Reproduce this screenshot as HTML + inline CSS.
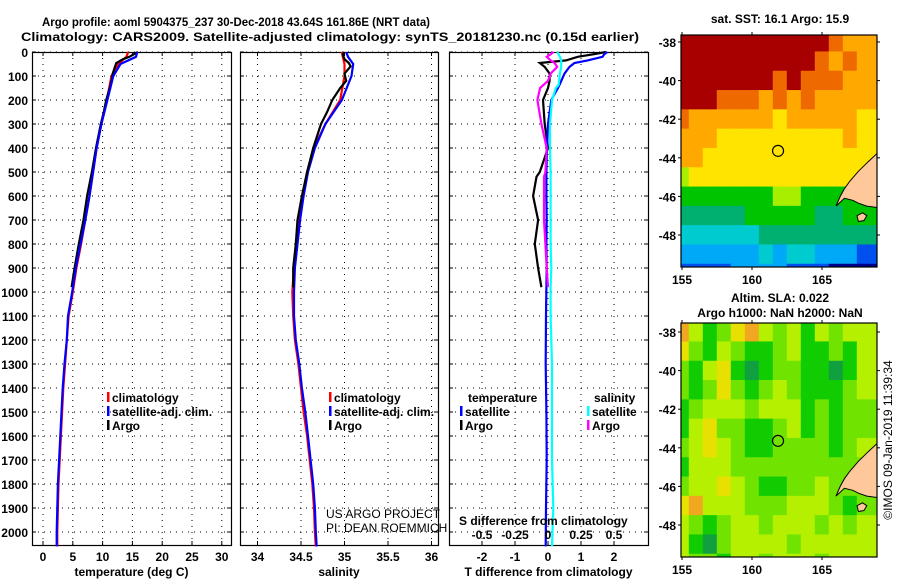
<!DOCTYPE html>
<html><head><meta charset="utf-8"><style>
body{margin:0;background:#fff;width:900px;height:580px;overflow:hidden}
svg text{font-family:"Liberation Sans",sans-serif;font-weight:bold;font-size:12px;fill:#000}
svg text.thin{font-weight:normal}
</style></head><body>
<svg id="fig" width="900" height="580" viewBox="0 0 900 580" xmlns="http://www.w3.org/2000/svg">
<text x="236" y="26" text-anchor="middle" font-size="14" textLength="388" lengthAdjust="spacingAndGlyphs">Argo profile: aoml 5904375_237 30-Dec-2018 43.64S 161.86E (NRT data)</text>
<text x="330" y="41" text-anchor="middle" font-size="14" textLength="618" lengthAdjust="spacingAndGlyphs">Climatology: CARS2009. Satellite-adjusted climatology: synTS_20181230.nc (0.15d earlier)</text>
</svg>
<script>
// ---------- data ----------
const depthTicks=[0,100,200,300,400,500,600,700,800,900,1000,1100,1200,1300,1400,1500,1600,1700,1800,1900,2000];
const tempTicks=[0,5,10,15,20,25,30];
const salTicks=[34,34.5,35,35.5,36];
const tdiffTicks=[-2,-1,0,1,2];
const sdiffTicks=[-0.5,-0.25,0,0.25,0.5];
const sdiffTickLabels=["-0.5","-0.25","0","0.25","0.5"];

const climDepth=[0,20,50,100,200,300,400,500,600,700,800,900,1000,1100,1200,1300,1400,1500,1600,1700,1800,1900,2000,2060];
const tempClim=[14.3,14.0,12.6,11.5,10.7,9.8,9.0,8.4,7.8,7.1,6.4,5.6,5.0,4.3,4.0,3.7,3.4,3.2,3.0,2.8,2.6,2.5,2.4,2.4];
const tempSat =[15.8,15.6,13.0,11.8,10.8,9.8,9.0,8.4,7.8,7.1,6.3,5.5,4.9,4.2,4.0,3.6,3.3,3.1,2.9,2.7,2.5,2.4,2.3,2.3];
const salClim=[34.97,34.98,35.0,35.0,34.95,34.78,34.65,34.57,34.52,34.48,34.45,34.42,34.40,34.41,34.43,34.47,34.50,34.53,34.57,34.60,34.63,34.65,34.66,34.67];
const salSat =[35.02,35.04,35.10,35.08,34.97,34.78,34.66,34.58,34.53,34.49,34.46,34.43,34.42,34.42,34.44,34.48,34.51,34.55,34.58,34.61,34.64,34.66,34.67,34.68];

const argoDepth=[0,10,20,30,46,60,90,120,150,200,250,300,400,500,600,700,800,900,980];
const tempArgo=[15.9,15.2,14.5,13.4,12.3,12.1,11.7,11.5,11.2,10.6,10.2,9.7,8.9,8.2,7.4,6.8,6.0,5.3,4.8];
const salArgo=[35.0,34.98,34.99,35.0,35.05,35.07,35.0,35.02,34.95,34.86,34.80,34.73,34.64,34.57,34.51,34.46,34.44,34.41,34.41];

const diffDepth=[0,10,20,35,46,62,90,137,150,200,300,400,500,600,700,800,900,980,1100,1300,1500,1700,1900,2060];
const tDiffSat=[1.8,1.7,1.65,1.2,0.8,0.65,0.5,0.35,0.3,0.1,0.0,-0.03,-0.05,-0.05,-0.04,-0.05,-0.04,-0.05,-0.06,-0.07,-0.05,-0.04,-0.06,-0.07];
const sDiffSat=[0.07,0.08,0.09,0.1,0.1,0.1,0.09,0.08,0.06,0.03,0.015,0.015,0.02,0.02,0.02,0.02,0.025,0.02,0.02,0.03,0.03,0.03,0.04,0.03];
const argoDiffDepth=[0,10,20,35,46,62,90,120,150,200,300,400,500,520,600,700,800,900,980];
const tDiffArgo=[1.75,1.35,0.9,0.55,-0.25,-0.1,0.05,0.05,0.0,-0.15,-0.1,0.0,-0.25,-0.35,-0.45,-0.3,-0.4,-0.3,-0.2];
const sDiffArgo=[0.04,0.02,-0.01,0.02,0.05,0.07,0.02,0.0,-0.06,-0.08,-0.05,-0.01,-0.02,-0.03,-0.03,-0.03,-0.02,-0.01,0.0];

// SST colour index grid (rows: lat -38..-50 step 1, cols: lon 155..168 step 1)
const sstColors=["#00008c","#0050f0","#00a8f8","#00ccd0","#00b070","#00c400","#a8ee00","#ffe400","#ffa800","#ee6a00","#a80000"];
const sstGrid=[
[10,10,10,10,10,10,10,10,10,10,10,9,8,8],
[10,10,10,10,10,10,10,10,10,10,9,8,9,8],
[10,10,10,10,10,10,10,9,10,9,9,9,8,8],
[10,10,10,9,9,9,8,9,8,9,8,8,8,8],
[9,8,8,8,8,8,8,7,8,8,8,8,8,7],
[8,8,8,7,7,7,7,7,7,7,7,7,8,7],
[8,8,7,7,7,7,7,7,7,7,7,7,7,7],
[6,7,7,7,7,7,7,7,7,7,7,7,7,7],
[5,5,5,5,5,5,5,6,6,5,5,5,5,5],
[4,4,4,4,4,5,5,5,5,5,4,4,5,5],
[3,3,3,3,3,3,4,4,4,4,4,4,4,4],
[2,2,2,2,2,2,3,2,3,3,2,2,2,1],
[1,1,1,1,2,2,2,2,1,1,1,0,0,0]];
const slaColors=["#10a040","#10cc00","#70e400","#b4f000","#e8e000","#f0a820"];
const slaGrid=[
[5,3,1,2,4,5,3,2,3,1,3,2,3,3],
[4,2,1,3,2,1,1,2,3,1,1,2,1,3],
[2,1,3,4,1,0,1,2,2,1,1,0,1,3],
[2,1,2,4,2,1,2,3,2,1,1,1,2,3],
[1,2,3,3,3,2,3,3,3,1,2,1,2,2],
[1,3,4,2,2,1,1,2,3,1,2,1,2,2],
[2,3,4,3,2,1,1,2,2,2,2,1,2,3],
[1,3,3,3,2,2,2,2,2,2,2,2,2,2],
[2,3,3,4,3,2,1,1,2,2,3,2,2,2],
[4,5,3,3,3,2,2,2,3,3,3,2,1,2],
[3,2,1,2,3,3,2,3,3,3,2,3,2,3],
[3,1,0,2,3,3,3,3,2,3,3,3,3,3],
[3,2,2,1,3,3,2,3,3,3,2,3,3,3]];
const mapLonTicks=[155,160,165];
const mapLatTicks=[-38,-40,-42,-44,-46,-48];
const landLon=[169.2,168.9,168.3,167.6,167.0,166.6,166.3,166.0,166.6,167.2,167.6,168.2,169.2];
const landLat=[-43.7,-43.8,-44.2,-44.7,-45.2,-45.6,-46.0,-46.5,-46.1,-46.2,-46.35,-46.5,-46.6];
const islandLon=[167.5,167.9,168.2,168.0,167.6];
const islandLat=[-47.0,-46.85,-47.0,-47.25,-47.3];
const argoLon=161.86, argoLat=-43.64;

// ---------- drawing ----------
const NS="http://www.w3.org/2000/svg";
const svg=document.getElementById('fig');
function el(tag,attrs,parent){const e=document.createElementNS(NS,tag);for(const k in attrs)e.setAttribute(k,attrs[k]);(parent||svg).appendChild(e);return e;}
function txt(x,y,s,anchor,parent,size,thin){const t=el('text',{x:x,y:y,'text-anchor':anchor||'start'},parent);if(size)t.setAttribute('font-size',size);if(thin)t.setAttribute('class','thin');t.textContent=s;return t;}

const Y0=52, PYB=545;
const yD=d=>Y0+d*0.24;
const panels=[
 {name:'temperature-panel',x0:32,x1:231,xs:v=>43+v*5.96,ticks:tempTicks,lab:tempTicks.map(String),title:'temperature (deg C)'},
 {name:'salinity-panel',x0:240,x1:438,xs:v=>257.5+(v-34)*87,ticks:salTicks,lab:salTicks.map(String),title:'salinity'},
 {name:'difference-panel',x0:449,x1:648,xs:v=>548+v*33,ticks:tdiffTicks,lab:tdiffTicks.map(String),title:'T difference from climatology'}];
panels.forEach((p,i)=>{
  const g=el('g',{});  
  p.ticks.forEach(t=>{const x=p.xs(t);el('line',{x1:x,x2:x,y1:Y0,y2:PYB,stroke:'#000','stroke-width':1,'stroke-dasharray':'1,5'},g);
    el('line',{x1:x,x2:x,y1:Y0,y2:Y0+4,stroke:'#000'},g);el('line',{x1:x,x2:x,y1:PYB,y2:PYB-4,stroke:'#000'},g);});
  depthTicks.forEach(d=>{const y=yD(d);el('line',{x1:p.x0,x2:p.x1,y1:y,y2:y,stroke:'#000','stroke-width':1,'stroke-dasharray':'1,5'},g);
    el('line',{x1:p.x0,x2:p.x0+4,y1:y,y2:y,stroke:'#000'},g);el('line',{x1:p.x1,x2:p.x1-4,y1:y,y2:y,stroke:'#000'},g);});
  el('rect',{x:p.x0+0.5,y:Y0+0.5,width:p.x1-p.x0,height:PYB-Y0,fill:'none',stroke:'#000','stroke-width':1.2},g);
  p.ticks.forEach((t,k)=>{const l=txt(p.xs(t),561,p.lab[k],'middle',g,13);});
  const xt=txt((p.x0+p.x1)/2,576,p.title,'middle',g,13);
  p.g=g;
});
depthTicks.forEach(d=>{const l=txt(28,yD(d)+5,String(d),'end',null,13);});

function series(panel,xs,ys,color,name){
  const p=panels[panel];
  const pts=xs.map((v,k)=>p.xs(v).toFixed(1)+','+yD(ys[k]).toFixed(1)).join(' ');
  const l=el('polyline',{points:pts,fill:'none',stroke:color,'stroke-width':2.2,'stroke-linejoin':'miter'},p.g);
  
  
}
series(0,tempClim,climDepth,'#ff0000','temp-climatology-line');
series(0,tempArgo,argoDepth,'#000000','temp-argo-line');
series(0,tempSat,climDepth,'#0000ff','temp-satellite-line');
series(1,salClim,climDepth,'#ff0000','sal-climatology-line');
series(1,salSat,climDepth,'#0000ff','sal-satellite-line');
series(1,salArgo,argoDepth,'#000000','sal-argo-line');
series(2,tDiffArgo,argoDiffDepth,'#000000','tdiff-argo-line');
series(2,tDiffSat,diffDepth,'#0000ff','tdiff-satellite-line');
const sScale=v=>v*4;
series(2,sDiffSat.map(sScale),diffDepth,'#00ffff','sdiff-satellite-line');
series(2,sDiffArgo.map(sScale),argoDiffDepth,'#ff00ff','sdiff-argo-line');

function legend(x,y,color,label,parent){const g=el('g',{},parent);
  el('rect',{x:x,y:y-10,width:2.5,height:10,fill:color},g);txt(x+5,y,label,'start',g,12.5);}
legend(107,402,'#ff0000','climatology');legend(107,416,'#0000ff','satellite-adj. clim.');legend(107,430,'#000000','Argo');
legend(329,402,'#ff0000','climatology');legend(329,416,'#0000ff','satellite-adj. clim.');legend(329,430,'#000000','Argo');
txt(468,402,'temperature','start',null,12.5);legend(460,416,'#0000ff','satellite');legend(460,430,'#000000','Argo');
txt(594,402,'salinity','start',null,12.5);legend(587,416,'#00ffff','satellite');legend(587,430,'#ff00ff','Argo');
txt(326,518,'US ARGO PROJECT','start',null,12.5,true);
txt(326,532,'PI: DEAN ROEMMICH','start',null,12.5,true);
txt(459,525,'S difference from climatology','start',null,12.5);
sdiffTicks.forEach((t,k)=>txt(548+t*132,539,sdiffTickLabels[k],'middle',null,12.5));

function map(top,bottom,latRef,colors,grid,name){
  const g=el('g',{});
  const L=681,R=877;
  const xs=lon=>682+(lon-155)*14;
  const ys=lat=>latRef+(-38-lat)*19.3;
  const clip=el('clipPath',{id:'c'+name},g);el('rect',{x:L,y:top,width:R-L,height:bottom-top},clip);
  const cg=el('g',{'clip-path':'url(#c'+name+')'},g);
  grid.forEach((row,i)=>row.forEach((v,j)=>{
    const last=j===row.length-1;
    const c=el('rect',{x:xs(154.5+j)-0.2,y:ys(-37.5-i)-0.2,width:last?30:14.4,height:i===grid.length-1?40:19.7,fill:colors[v]},cg);
    
    
  }));
  const lp=landLon.map((lo,k)=>xs(lo).toFixed(1)+','+ys(landLat[k]).toFixed(1)).join(' ');
  const land=el('polygon',{points:lp,fill:'#fec89a',stroke:'#000','stroke-width':1},cg);
  
  
  const ip=islandLon.map((lo,k)=>xs(lo).toFixed(1)+','+ys(islandLat[k]).toFixed(1)).join(' ');
  const isl=el('polygon',{points:ip,fill:'#fec89a',stroke:'#000','stroke-width':1},cg);
  
  
  const ac=el('circle',{cx:xs(argoLon),cy:ys(argoLat),r:5.5,fill:'none',stroke:'#000','stroke-width':1.2},g);
  
  
  el('rect',{x:L,y:top,width:R-L,height:bottom-top,fill:'none',stroke:'#000','stroke-width':1.2},g);
  mapLonTicks.forEach(lo=>{const x=xs(lo);el('line',{x1:x,x2:x,y1:top-3,y2:top,stroke:'#000'},g);el('line',{x1:x,x2:x,y1:bottom,y2:bottom+3,stroke:'#000'},g);
    txt(x,bottom+17,String(lo),'middle',g,13);});
  mapLatTicks.forEach(la=>{const y=ys(la);el('line',{x1:L-3,x2:L,y1:y,y2:y,stroke:'#000'},g);el('line',{x1:R,x2:R+3,y1:y,y2:y,stroke:'#000'},g);
    txt(L-5,y+5,String(la),'end',g,13);});
}
map(35,267,42,sstColors,sstGrid,'sst-map');
map(323,557,332,slaColors,slaGrid,'sla-map');
txt(780,23,'sat. SST: 16.1 Argo: 15.9','middle',null,12.5);
txt(780,302,'Altim. SLA: 0.022','middle',null,12.5);
txt(780,317,'Argo h1000: NaN h2000: NaN','middle',null,12.5);
const st=txt(0,0,'©IMOS 09-Jan-2019 11:39:34','middle',null,13,true);
st.setAttribute('transform','translate(892,440) rotate(-90)');


</script>
</body></html>
